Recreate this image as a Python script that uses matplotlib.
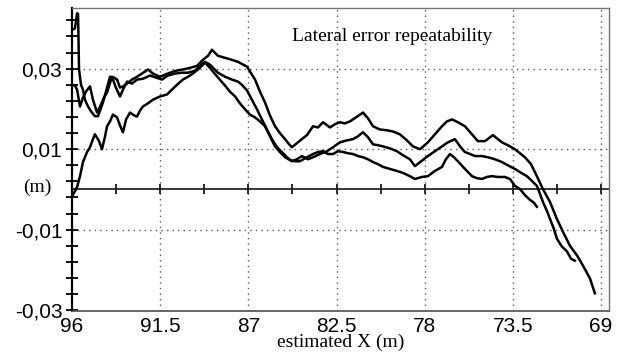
import matplotlib

matplotlib.use("Agg")
import matplotlib.pyplot as plt
import numpy as np

# run 1 (starts with the spike near 96 m)
run1_x = [96.0, 95.85, 95.74, 95.69, 95.64, 95.54, 95.44, 95.34, 95.18, 95.03, 94.83, 94.67,
          94.42, 94.21, 94.06, 93.86, 93.70, 93.55, 93.40, 93.19, 92.94, 92.68, 92.43, 92.12,
          91.87, 91.51, 91.26, 91.00, 90.69, 90.34, 89.98, 89.62, 89.32, 89.06, 88.86, 88.55,
          88.19, 87.84, 87.53, 87.07, 86.66, 86.41, 86.15, 85.90, 85.64, 85.39, 85.13, 84.88,
          84.78, 84.52, 84.27, 84.01, 83.70, 83.45, 83.19, 82.84, 82.58, 82.33, 82.07, 81.82,
          81.51, 81.15, 80.90, 80.64, 80.29, 79.93, 79.62, 79.27, 78.91, 78.60, 78.24, 77.84,
          77.48, 77.12, 76.87, 76.61, 76.31, 75.95, 75.59, 75.29, 74.93, 74.52, 74.32, 74.06,
          73.76, 73.40, 72.89, 72.58, 72.28, 71.97, 71.61, 71.26, 70.95, 70.59, 70.23, 69.93,
          69.57, 69.32]
run1_y = [0.0396, 0.0400, 0.0438, 0.0436, 0.0298, 0.0260, 0.0248, 0.0223, 0.0206, 0.0194,
          0.0182, 0.0182, 0.0216, 0.0253, 0.0280, 0.0278, 0.0273, 0.0253, 0.0256, 0.0263,
          0.0273, 0.0280, 0.0288, 0.0298, 0.0288, 0.0280, 0.0285, 0.0290, 0.0295, 0.0298,
          0.0302, 0.0307, 0.0322, 0.0332, 0.0347, 0.0332, 0.0327, 0.0322, 0.0317, 0.0305,
          0.0273, 0.0243, 0.0216, 0.0184, 0.0157, 0.0140, 0.0125, 0.0110, 0.0105, 0.0115,
          0.0125, 0.0135, 0.0157, 0.0154, 0.0167, 0.0154, 0.0162, 0.0167, 0.0164, 0.0169,
          0.0179, 0.0191, 0.0177, 0.0157, 0.0149, 0.0147, 0.0144, 0.0137, 0.0122, 0.0107,
          0.0100, 0.0117, 0.0137, 0.0157, 0.0169, 0.0174, 0.0167, 0.0157, 0.0137, 0.0120,
          0.0120, 0.0135, 0.0127, 0.0117, 0.0110, 0.0100, 0.0080, 0.0063, 0.0033, 0.0001,
          -0.0031, -0.0073, -0.0105, -0.0140, -0.0164, -0.0189, -0.0221, -0.0258]

# run 2
run2_x = [96.0, 95.85, 95.74, 95.59, 95.44, 95.29, 95.08, 94.93, 94.72, 94.52, 94.37, 94.21,
          93.96, 93.76, 93.55, 93.35, 93.19, 92.94, 92.68, 92.38, 92.02, 91.71, 91.41, 91.10,
          90.74, 90.39, 90.08, 89.72, 89.47, 89.21, 88.96, 88.55, 88.19, 87.84, 87.53, 87.33,
          87.07, 86.82, 86.56, 86.31, 86.05, 85.80, 85.54, 85.29, 85.03, 84.78, 84.52, 84.27,
          83.96, 83.70, 83.35, 82.99, 82.68, 82.33, 81.97, 81.66, 81.41, 81.15, 80.90, 80.64,
          80.39, 80.13, 79.78, 79.42, 79.11, 78.76, 78.50, 77.84, 77.48, 77.12, 76.82, 76.46,
          76.20, 75.95, 75.69, 75.44, 75.08, 74.78, 74.42, 74.06, 73.76, 73.40, 73.14, 72.79,
          72.53, 72.28, 72.12, 71.97, 71.77, 71.61, 71.41, 71.26, 71.00, 70.74, 70.54, 70.34]
run2_y = [0.0260, 0.0258, 0.0248, 0.0206, 0.0228, 0.0243, 0.0256, 0.0223, 0.0191, 0.0211,
          0.0228, 0.0241, 0.0280, 0.0253, 0.0231, 0.0253, 0.0268, 0.0263, 0.0273, 0.0275,
          0.0283, 0.0278, 0.0273, 0.0283, 0.0288, 0.0290, 0.0290, 0.0295, 0.0307, 0.0317,
          0.0310, 0.0290, 0.0280, 0.0273, 0.0268, 0.0260, 0.0246, 0.0223, 0.0199, 0.0174,
          0.0149, 0.0125, 0.0105, 0.0093, 0.0080, 0.0070, 0.0075, 0.0083, 0.0075, 0.0080,
          0.0088, 0.0095, 0.0105, 0.0117, 0.0122, 0.0125, 0.0132, 0.0142, 0.0130, 0.0112,
          0.0110, 0.0107, 0.0102, 0.0095, 0.0085, 0.0075, 0.0058, 0.0083, 0.0095, 0.0107,
          0.0117, 0.0125, 0.0107, 0.0093, 0.0088, 0.0083, 0.0083, 0.0080, 0.0075, 0.0068,
          0.0060, 0.0051, 0.0043, 0.0033, 0.0021, 0.0009, -0.0011, -0.0031, -0.0053, -0.0073,
          -0.0098, -0.0122, -0.0142, -0.0154, -0.0172, -0.0177]

# run 3 (starts near zero)
run3_x = [96.0, 95.90, 95.74, 95.59, 95.44, 95.23, 95.08, 94.93, 94.83, 94.62, 94.47, 94.32,
          94.21, 94.06, 93.91, 93.70, 93.55, 93.40, 93.24, 93.04, 92.83, 92.68, 92.53, 92.38,
          92.12, 91.87, 91.51, 91.15, 90.90, 90.64, 90.34, 90.08, 89.83, 89.57, 89.21, 88.96,
          88.55, 88.19, 87.94, 87.68, 87.43, 87.17, 86.92, 86.66, 86.41, 86.15, 85.90, 85.64,
          85.39, 85.13, 84.88, 84.62, 84.37, 84.01, 83.70, 83.45, 83.19, 82.94, 82.68, 82.43,
          82.17, 81.92, 81.66, 81.41, 81.15, 80.90, 80.64, 80.39, 80.13, 79.78, 79.42, 79.11,
          78.76, 78.50, 78.14, 77.84, 77.48, 77.12, 76.92, 76.71, 76.51, 76.31, 75.95, 75.59,
          75.34, 75.08, 74.83, 74.57, 74.27, 73.91, 73.65, 73.40, 73.14, 72.89, 72.63, 72.43,
          72.28]
run3_y = [-0.0016, -0.0009, 0.0006, 0.0033, 0.0068, 0.0093, 0.0105, 0.0125, 0.0137, 0.0120,
          0.0100, 0.0130, 0.0157, 0.0169, 0.0186, 0.0179, 0.0159, 0.0142, 0.0174, 0.0191,
          0.0184, 0.0181, 0.0196, 0.0206, 0.0214, 0.0223, 0.0231, 0.0236, 0.0248, 0.0260,
          0.0273, 0.0280, 0.0288, 0.0298, 0.0315, 0.0302, 0.0278, 0.0258, 0.0243, 0.0231,
          0.0214, 0.0199, 0.0186, 0.0179, 0.0169, 0.0157, 0.0132, 0.0107, 0.0093, 0.0080,
          0.0073, 0.0070, 0.0070, 0.0080, 0.0088, 0.0093, 0.0095, 0.0088, 0.0088, 0.0095,
          0.0093, 0.0090, 0.0088, 0.0083, 0.0080, 0.0075, 0.0068, 0.0063, 0.0056, 0.0051,
          0.0046, 0.0041, 0.0033, 0.0026, 0.0031, 0.0033, 0.0046, 0.0056, 0.0075, 0.0088,
          0.0080, 0.0070, 0.0051, 0.0033, 0.0028, 0.0026, 0.0031, 0.0033, 0.0031, 0.0031,
          0.0026, 0.0009, 0.0001, -0.0014, -0.0026, -0.0033, -0.0043]

x_ticks = [96, 91.5, 87, 82.5, 78, 73.5, 69]
x_tick_labels = ["96", "91.5", "87", "82.5", "78", "73.5", "69"]
y_labelled = [0.03, 0.01, -0.01, -0.03]
y_tick_labels = ["0,03", "0,01", "-0,01", "-0,03"]

fig = plt.figure(figsize=(6.2, 3.56), dpi=100)
ax = fig.add_axes([0.1161, 0.1264, 0.8661, 0.8525])

# dotted grid
for xv in x_ticks[1:]:
    ax.axvline(xv, color="0.35", lw=1.0, ls=(0, (1, 3)), zorder=1)
for yv in y_labelled[:3]:
    ax.axhline(yv, color="0.35", lw=1.0, ls=(0, (1, 3)), zorder=1)

# zero line with its own ticks
ax.axhline(0, color="0.15", lw=1.3, zorder=2)
zero_ticks = np.arange(96, 68.9, -2.25)
ax.plot(zero_ticks, np.zeros_like(zero_ticks), ls="none", marker="|", ms=7,
        mew=1.3, color="0.1", zorder=2)

for xs, ys in [(run1_x, run1_y), (run2_x, run2_y), (run3_x, run3_y)]:
    ax.plot(xs, ys, color="black", lw=1.8, zorder=3)

ax.set_xlim(96, 68.6)
ax.set_ylim(-0.0302, 0.0452)

ax.set_xticks(x_ticks)
ax.set_xticklabels(x_tick_labels, fontsize=15, family="Liberation Sans")
ax.tick_params(axis="x", length=0, pad=4)

y_minor = np.arange(-0.03, 0.0441, 0.004)
ax.set_yticks(y_minor)
ax.set_yticklabels([y_tick_labels[y_labelled.index(round(v, 3))] if round(v, 3) in y_labelled else ""
                    for v in y_minor], fontsize=15, family="Liberation Sans")
ax.tick_params(axis="y", direction="inout", length=8, width=1.3, pad=3)

ax.spines["left"].set_linewidth(1.6)
ax.spines["bottom"].set_linewidth(1.2)
ax.spines["bottom"].set_color("0.3")
for side in ("top", "right"):
    ax.spines[side].set_linewidth(1.0)
    ax.spines[side].set_color("0.45")

ax.set_xlabel("estimated X (m)", fontsize=14, family="Liberation Serif", labelpad=-1)
ax.text(0.596, 0.905, "Lateral error repeatability", transform=ax.transAxes,
        fontsize=14, family="Liberation Serif", ha="center", va="center")
fig.text(37 / 620, 1 - 187 / 356, "(m)", fontsize=14, family="Liberation Serif",
         ha="center", va="center")

fig.savefig("out.png", dpi=100)
